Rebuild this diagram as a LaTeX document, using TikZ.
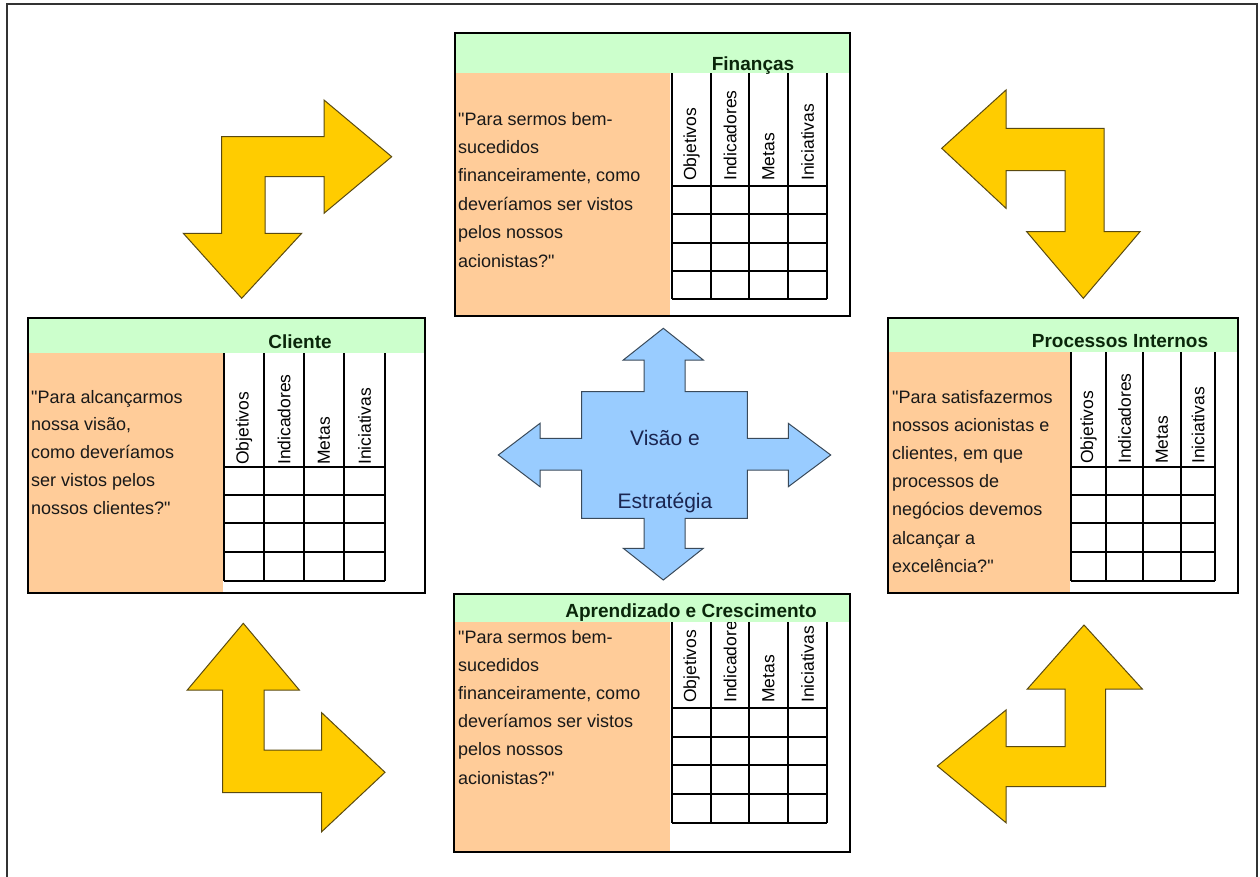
\documentclass[tikz,border=0pt]{standalone}
\usepackage{fontspec}
\setmainfont{Liberation Sans}[Ligatures=TeXOff]
\definecolor{peach}{HTML}{FFCC99}
\definecolor{mint}{HTML}{CCFFCC}
\definecolor{gold}{HTML}{FFCC00}
\definecolor{goldedge}{HTML}{5A4A10}
\definecolor{sky}{HTML}{99CCFF}
\definecolor{skyedge}{HTML}{3A4A5A}
\definecolor{navy}{HTML}{1A2550}
\definecolor{titlegreen}{HTML}{0A260A}
\tikzset{
  body/.style={font=\fontsize{18}{22}\selectfont, anchor=base west, inner sep=0pt, text=black!90},
  cardtitle/.style={font=\fontsize{19}{22}\selectfont\bfseries, anchor=base, inner sep=0pt, text=titlegreen},
  colhead/.style={font=\fontsize{17.5}{20}\selectfont, rotate=90, anchor=west, inner sep=0pt},
  cardframe/.style={draw=black, line width=1.3pt},
  gridline/.style={draw=black, line width=1.3pt},
  yarrow/.style={fill=gold, draw=goldedge, line width=1pt, line join=miter},
  crossshape/.style={fill=sky, draw=skyedge, line width=1pt, line join=miter},
  crosstext/.style={font=\fontsize{21}{24}\selectfont, anchor=base, inner sep=0pt, text=navy}
}
\begin{document}
\begin{tikzpicture}[x=1pt,y=-1pt]
\useasboundingbox (0,0) rectangle (1260,876);
\fill[white] (0,0) rectangle (1260,876);
\draw[line width=2.5pt, draw=black!80] (7,4) rectangle (1257,885);

% ---------- Finanças (top) ----------
\fill[mint] (455,33) rectangle (850,73);
\fill[peach] (455,73) rectangle (670,316);
\foreach \c in {672,711,749,788,827} \draw[gridline] (\c,73) -- (\c,299);
\foreach \r in {186,214,243,271,299} \draw[gridline] (672,\r) -- (827,\r);
\draw[cardframe] (455,33) rectangle (850,316);
\node[cardtitle] (fintitle) at (753,70) {Finanças};
\foreach \c/\t [count=\i] in {691.5/Objetivos, 730/Indicadores, 768.5/Metas, 807.5/Iniciativas}
  \node[colhead, name=finc\i] at (\c,181) {\t};
\foreach \t [count=\i] in {{"Para sermos bem-},{sucedidos},{financeiramente, como},{deveríamos ser vistos},{pelos nossos},{acionistas?"}}
  \node[body, name=finq\i] at (458,{125+(\i-1)*28.4}) {\t};

% ---------- Cliente (left) ----------
\fill[mint] (28,318) rectangle (425,353);
\fill[peach] (28,353) rectangle (223,593);
\foreach \c in {224,264,304,344,385} \draw[gridline] (\c,353) -- (\c,581);
\foreach \r in {467,495,523,552,581} \draw[gridline] (224,\r) -- (385,\r);
\draw[cardframe] (28,318) rectangle (425,593);
\node[cardtitle] (clititle) at (300,348) {Cliente};
\foreach \c/\t [count=\i] in {244/Objetivos, 284/Indicadores, 324/Metas, 364.5/Iniciativas}
  \node[colhead, name=clic\i] at (\c,465) {\t};
\foreach \t [count=\i] in {{"Para alcançarmos},{nossa visão,},{como deveríamos},{ser vistos pelos},{nossos clientes?"}}
  \node[body, name=cliq\i] at (31,{403+(\i-1)*27.8}) {\t};

% ---------- Processos Internos (right) ----------
\fill[mint] (888,318) rectangle (1238,352);
\fill[peach] (888,352) rectangle (1070,593);
\foreach \c in {1071,1106,1143,1181,1215} \draw[gridline] (\c,352) -- (\c,581);
\foreach \r in {467,495,523,552,581} \draw[gridline] (1071,\r) -- (1215,\r);
\draw[cardframe] (888,318) rectangle (1238,593);
\node[cardtitle] (protitle) at (1120,347) {Processos Internos};
\foreach \c/\t [count=\i] in {1088.5/Objetivos, 1124.5/Indicadores, 1162/Metas, 1198/Iniciativas}
  \node[colhead, name=proc\i] at (\c,464) {\t};
\foreach \t [count=\i] in {{"Para satisfazermos},{nossos acionistas e},{clientes, em que},{processos de},{negócios devemos},{alcançar a},{excelência?"}}
  \node[body, name=proq\i] at (892,{403+(\i-1)*28.2}) {\t};

% ---------- Aprendizado e Crescimento (bottom) ----------
\fill[mint] (454,594) rectangle (850,622);
\fill[peach] (454,622) rectangle (670,852);
\foreach \c in {672,711,749,788,827} \draw[gridline] (\c,622) -- (\c,823);
\foreach \r in {708,737,765,794,823} \draw[gridline] (672,\r) -- (827,\r);
\draw[cardframe] (454,594) rectangle (850,852);
\node[cardtitle] (aprtitle) at (691,617) {Aprendizado e Crescimento};
\begin{scope}
  \clip (672,622) rectangle (827,708);
  \foreach \c/\t [count=\i] in {691.5/Objetivos, 730/Indicadores, 768.5/Metas, 807.5/Iniciativas}
    \node[colhead, name=aprc\i] at (\c,703) {\t};
\end{scope}
\foreach \t [count=\i] in {{"Para sermos bem-},{sucedidos},{financeiramente, como},{deveríamos ser vistos},{pelos nossos},{acionistas?"}}
  \node[body, name=aprq\i] at (458,{643+(\i-1)*28.2}) {\t};

% ---------- yellow corner arrows ----------
\draw[yarrow] (221.7,136.7) -- (324,136.7) -- (324,100) -- (391.7,156.7) -- (324,213.3) -- (324,176.7)
  -- (265,176.7) -- (265,233.3) -- (301.7,233.3) -- (241.7,298.3) -- (183.3,233.3) -- (221.7,233.3) -- cycle;
\draw[yarrow] (941.7,148.3) -- (1006,90) -- (1006,128.3) -- (1104,128.3) -- (1104,231.7) -- (1140,231.7)
  -- (1083.3,298.3) -- (1026.7,231.7) -- (1065,231.7) -- (1065,170.7) -- (1006,170.7) -- (1006,208.3) -- cycle;
\draw[yarrow] (243.3,623.3) -- (299.3,690) -- (264,690) -- (264,750) -- (321.7,750) -- (321.7,712.7)
  -- (385,772.3) -- (321.7,831.7) -- (321.7,792.7) -- (222.7,792.7) -- (222.7,690) -- (187.3,690) -- cycle;
\draw[yarrow] (1084,625) -- (1142.3,689) -- (1105.7,689) -- (1105.7,786.7) -- (1006,786.7) -- (1006,822.7)
  -- (937.3,766) -- (1006,710) -- (1006,746.7) -- (1065,746.7) -- (1065,689) -- (1027.3,689) -- cycle;

% ---------- central cross ----------
\draw[crossshape] (663.3,328.3) -- (703.3,360) -- (685,360) -- (685,391.7) -- (747.3,391.7) -- (747.3,438.3)
  -- (788.3,438.3) -- (788.3,423.3) -- (830.7,455) -- (788.3,486.7) -- (788.3,470) -- (747.3,470)
  -- (747.3,518.3) -- (685,518.3) -- (685,548.3) -- (703.3,548.3) -- (663.3,580) -- (623.3,548.3)
  -- (644,548.3) -- (644,518.3) -- (581.7,518.3) -- (581.7,470) -- (540,470) -- (540,486.7)
  -- (498.3,455) -- (540,423.3) -- (540,438.3) -- (581.7,438.3) -- (581.7,391.7) -- (644,391.7)
  -- (644,360) -- (623.3,360) -- cycle;
\node[crosstext] (vis1) at (665,445) {Visão e};
\node[crosstext] (vis2) at (665,508) {Estratégia};
\end{tikzpicture}
\end{document}
